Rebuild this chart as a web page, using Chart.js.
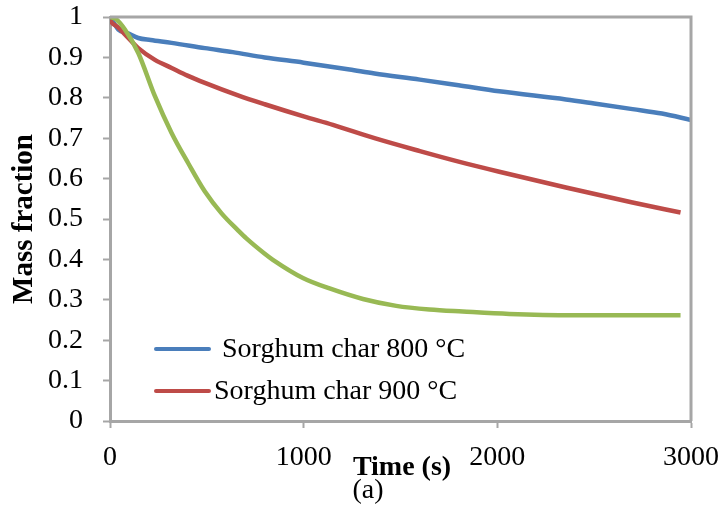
<!DOCTYPE html>
<html>
<head>
<meta charset="utf-8">
<script src="https://cdn.jsdelivr.net/npm/chart.js@4"></script>
<style>
  html, body { margin: 0; padding: 0; background: #fff; }
  #wrap { width: 722px; height: 523px; }
</style>
</head>
<body>
<div id="wrap"><canvas id="Chart-canvas" width="722" height="523"></canvas></div>
<script>
// time in seconds, mass fraction
const time800 = [0, 20, 43, 90, 146, 210, 318, 490, 634, 799, 1000, 1237, 1366, 1600, 1800, 2010, 2354, 2500, 2698, 2850, 3000];
const mass800 = [1.0, 0.985, 0.969, 0.960, 0.948, 0.943, 0.936, 0.923, 0.913, 0.900, 0.887, 0.870, 0.860, 0.845, 0.831, 0.816, 0.796, 0.786, 0.772, 0.761, 0.745];

const time900 = [0, 9, 40, 77, 146, 232, 318, 400, 490, 661, 799, 1000, 1151, 1366, 1600, 1800, 2010, 2354, 2698, 2946];
const mass900 = [0.993, 0.986, 0.975, 0.957, 0.923, 0.894, 0.874, 0.855, 0.837, 0.806, 0.784, 0.754, 0.733, 0.700, 0.668, 0.642, 0.617, 0.578, 0.541, 0.516];

const time1000 = [0, 30, 77, 146, 232, 318, 404, 490, 576, 661, 704, 799, 841, 996, 1134, 1306, 1478, 1649, 1821, 2062, 2400, 2700, 2946];
const mass1000 = [1.0, 0.995, 0.969, 0.911, 0.804, 0.713, 0.638, 0.568, 0.514, 0.472, 0.452, 0.414, 0.399, 0.354, 0.328, 0.302, 0.285, 0.276, 0.271, 0.265, 0.262, 0.262, 0.262];

const legendLabels = ['Sorghum char 800 \u00b0C', 'Sorghum char 900 \u00b0C'];
const xTitle = 'Time (s)';
const yTitle = 'Mass fraction';
const caption = '(a)';

const BLUE = '#4a7ebb';
const RED = '#be4b48';
const GREEN = '#98b954';
const AXIS = '#a6a6a6';
const FONT = '"Liberation Serif", "Times New Roman", serif';

const toPoints = (xs, ys) => xs.map((x, i) => ({ x: x, y: ys[i] }));

// frame, x title, caption and the two-entry legend
const extras = {
  id: 'extras',
  afterDatasetsDraw(chart) {
    const c = chart.ctx;
    const a = chart.chartArea;
    c.save();
    c.strokeStyle = AXIS;
    c.lineWidth = 3;
    c.beginPath();
    c.moveTo(a.left, a.top);
    c.lineTo(a.right, a.top);
    c.lineTo(a.right, a.bottom);
    c.stroke();

    c.fillStyle = '#000';
    c.textAlign = 'center';
    c.textBaseline = 'middle';
    c.font = 'bold 28px ' + FONT;
    c.fillText(xTitle, 402, 468);
    c.font = '28px ' + FONT;
    c.fillText(caption, 368, 491);

    c.lineCap = 'round';
    c.lineWidth = 4;
    c.textAlign = 'left';
    c.strokeStyle = BLUE;
    c.beginPath(); c.moveTo(156, 349); c.lineTo(209, 349); c.stroke();
    c.fillText(legendLabels[0], 222, 350);
    c.strokeStyle = RED;
    c.beginPath(); c.moveTo(156, 391); c.lineTo(209, 391); c.stroke();
    c.fillText(legendLabels[1], 214, 392);
    c.restore();
  }
};

const lineSet = (label, pts, color, order) => ({
  label: label,
  data: pts,
  borderColor: color,
  backgroundColor: color,
  borderWidth: 4.5,
  pointRadius: 0,
  cubicInterpolationMode: 'monotone',
  fill: false,
  order: order
});

new Chart(document.getElementById('Chart-canvas'), {
  type: 'line',
  data: {
    datasets: [
      lineSet(legendLabels[0], toPoints(time800, mass800), BLUE, 3),
      lineSet(legendLabels[1], toPoints(time900, mass900), RED, 2),
      lineSet('1000', toPoints(time1000, mass1000), GREEN, 1)
    ]
  },
  options: {
    responsive: false,
    animation: false,
    layout: { padding: { top: 17, right: 31, left: 0, bottom: 0 } },
    plugins: { legend: { display: false }, tooltip: { enabled: false } },
    scales: {
      x: {
        type: 'linear',
        min: 0,
        max: 3000,
        afterFit: s => { s.height = 102; s.paddingLeft = 0; s.paddingRight = 0; },
        ticks: {
          stepSize: 1000,
          color: '#000',
          font: { family: FONT, size: 28 },
          padding: 13,
          maxRotation: 0,
          callback: v => String(v)
        },
        grid: { drawOnChartArea: false, tickLength: 7, tickColor: AXIS, tickWidth: 2 },
        border: { color: AXIS, width: 3 }
      },
      y: {
        min: 0,
        max: 1,
        afterFit: s => { s.width = 110; s.paddingTop = 0; s.paddingBottom = 0; },
        ticks: {
          stepSize: 0.1,
          color: '#000',
          font: { family: FONT, size: 28 },
          padding: 20,
          callback: v => String(Number(v.toFixed(1)))
        },
        grid: { drawOnChartArea: false, tickLength: 7, tickColor: AXIS, tickWidth: 2 },
        border: { color: AXIS, width: 3 },
        title: { display: true, text: yTitle, color: '#000', font: { family: FONT, size: 29, weight: 'bold' }, padding: { top: 7, bottom: 0 } }
      }
    }
  },
  plugins: [extras]
});
</script>
</body>
</html>
